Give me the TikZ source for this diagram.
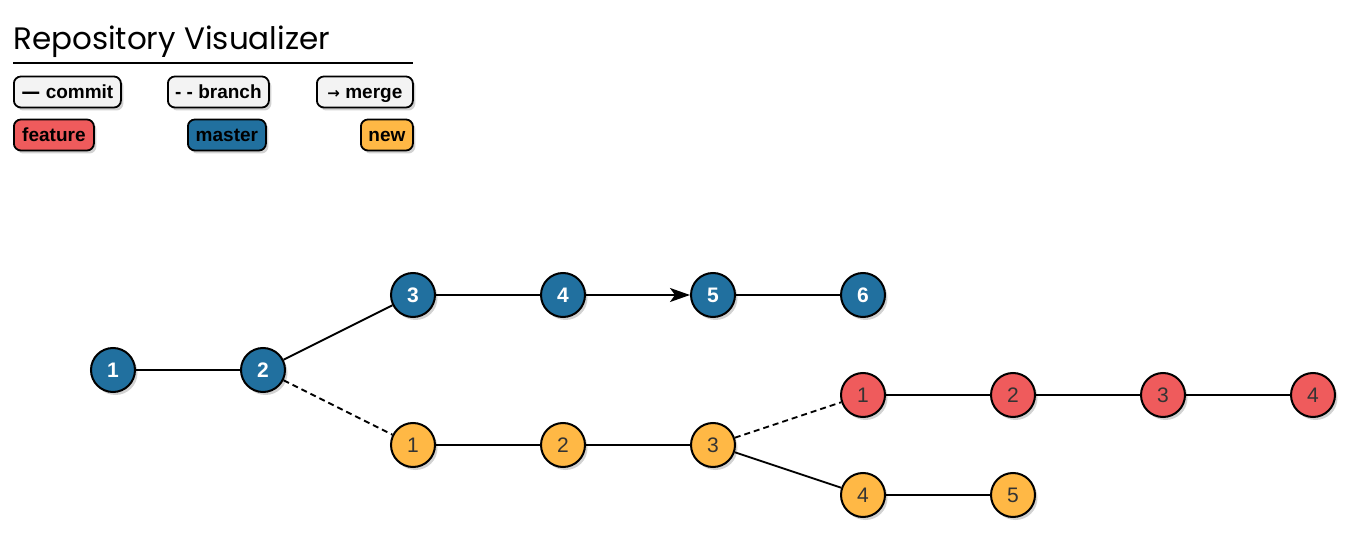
\documentclass[tikz,border=0pt]{standalone}
\usepackage{fontspec}
\setmainfont{Liberation Sans}
\newfontfamily\titlefont{Poppins}
\newfontfamily\symfont{DejaVu Sans}
\usetikzlibrary{shadows,arrows.meta}
\definecolor{masterc}{HTML}{21709F}
\definecolor{featc}{HTML}{EF5B5C}
\definecolor{newc}{HTML}{FFB845}
\definecolor{legc}{HTML}{F3F3F3}
\definecolor{txt}{HTML}{333333}
\tikzset{
  shad/.style={drop shadow={opacity=0.35,shadow xshift=2.5pt,shadow yshift=-3pt}},
  commit/.style={circle,draw=black,line width=2pt,minimum size=44pt,inner sep=0pt,shad,font=\fontsize{21}{23}\selectfont},
  mnode/.style={commit,fill=masterc,text=white,font=\fontsize{21}{23}\selectfont\bfseries},
  fnode/.style={commit,fill=featc,text=txt},
  nnode/.style={commit,fill=newc,text=txt},
  edge/.style={line width=1.8pt,draw=black},
  bedge/.style={edge,dash pattern=on 6pt off 4pt},
  legbox/.style={draw=black,line width=1.8pt,rounded corners=7pt,shad,font=\fontsize{19}{21}\selectfont\bfseries,inner xsep=6pt,inner ysep=0pt,text height=16pt,text depth=2pt,minimum height=31pt,anchor=west},
}
\begin{document}
\begin{tikzpicture}[x=1pt,y=-1pt]
\useasboundingbox[fill=white] (0,0) rectangle (1366,545);
% title
\node[anchor=base west,inner sep=0pt,font=\titlefont\fontsize{31}{34}\selectfont] (title) at (13,50) {Repository Visualizer};
\coordinate (ul) at (13,63);
\coordinate (ur) at (413,63);
\draw[line width=1.8pt] (ul) -- (ur);
% legend
\node[legbox,fill=legc,minimum width=107pt] (lc) at (13,92) {{\symfont —} commit};
\node[legbox,fill=legc,minimum width=101pt] (lb) at (167,92) {- - branch};
\node[legbox,fill=legc,minimum width=96pt] (lm) at (316,92) {{\symfont\fontsize{15}{17}\selectfont →} merge};
\node[legbox,fill=featc,minimum width=80pt] (lf) at (13,135) {feature};
\node[legbox,fill=masterc,minimum width=78pt] (lma) at (187,135) {master};
\node[legbox,fill=newc,minimum width=52pt] (ln) at (360,135) {new};
% master
\node[mnode] (m1) at (113,370) {1};
\node[mnode] (m2) at (263,370) {2};
\node[mnode] (m3) at (413,295) {3};
\node[mnode] (m4) at (563,295) {4};
\node[mnode] (m5) at (713,295) {5};
\node[mnode] (m6) at (863,295) {6};
% new
\node[nnode] (n1) at (413,445) {1};
\node[nnode] (n2) at (563,445) {2};
\node[nnode] (n3) at (713,445) {3};
\node[nnode] (n4) at (863,495) {4};
\node[nnode] (n5) at (1013,495) {5};
% feature
\node[fnode] (f1) at (863,395) {1};
\node[fnode] (f2) at (1013,395) {2};
\node[fnode] (f3) at (1163,395) {3};
\node[fnode] (f4) at (1313,395) {4};
% edges
\draw[edge] (m1) -- (m2);
\draw[edge] (m2) -- (m3);
\draw[edge] (m3) -- (m4);
\draw[edge,-{Stealth[length=20pt,width=14pt,inset=5pt]}] (m4) -- (m5);
\draw[edge] (m5) -- (m6);
\draw[bedge] (m2) -- (n1);
\draw[edge] (n1) -- (n2);
\draw[edge] (n2) -- (n3);
\draw[edge] (n3) -- (n4);
\draw[edge] (n4) -- (n5);
\draw[bedge] (n3) -- (f1);
\draw[edge] (f1) -- (f2);
\draw[edge] (f2) -- (f3);
\draw[edge] (f3) -- (f4);
\end{tikzpicture}
\end{document}
